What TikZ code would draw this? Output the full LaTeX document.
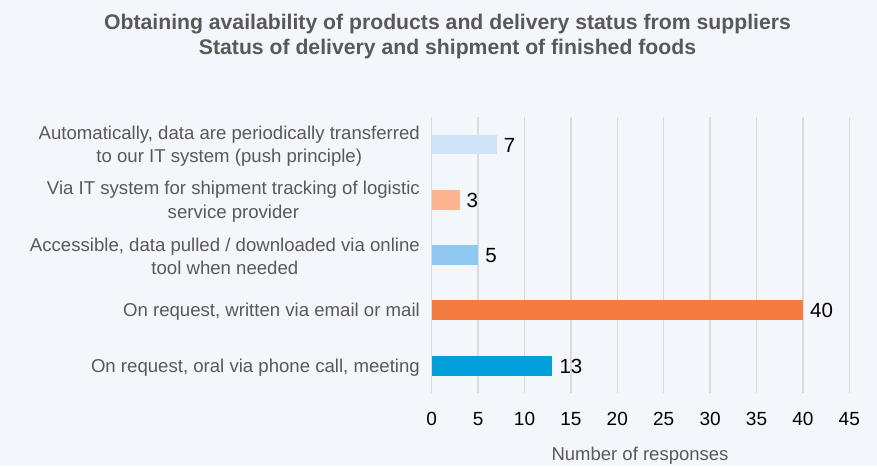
\documentclass[tikz,border=0pt]{standalone}
\usepackage{fontspec}
\setmainfont{Liberation Sans}
\definecolor{bg}{HTML}{F3F6FB}
\definecolor{gridgray}{HTML}{DCDCDC}
\definecolor{labgray}{HTML}{595959}
\definecolor{titlegray}{HTML}{595959}
\definecolor{ca}{HTML}{CFE5F7}
\definecolor{cb}{HTML}{FBB48F}
\definecolor{cc}{HTML}{8FC9EF}
\definecolor{cd}{HTML}{F47C43}
\definecolor{ce}{HTML}{009FDA}
\begin{document}
\begin{tikzpicture}[x=1pt,y=-1pt,
  gridline/.style={draw=gridgray, line width=1.4pt},
  barbox/.style={inner sep=0pt, outer sep=0pt, minimum height=19.5pt, anchor=west, draw=none},
  cat/.style={anchor=east, align=center, text=labgray, inner sep=0pt, yshift=-1.8pt, font=\fontsize{18.6}{23.3}\selectfont},
  val/.style={anchor=west, inner sep=0pt, yshift=-0.8pt, font=\fontsize{20.5}{24}\selectfont},
  ticklab/.style={anchor=base, inner sep=0pt, font=\fontsize{19}{22}\selectfont},
  titletext/.style={anchor=base, inner sep=0pt, text=titlegray, font=\bfseries\fontsize{21.2}{25}\selectfont},
  ]
\fill[bg] (0,0) rectangle (877,466);
\useasboundingbox (0,0) rectangle (877,466);
% title
\node[titletext] (title1) at (447.5,29) {Obtaining availability of products and delivery status from suppliers};
\node[titletext] (title2) at (447.5,54.3) {Status of delivery and shipment of finished foods};
% grid and ticks
\foreach \v in {0,5,...,45} {
  \draw[gridline] ({431.7+9.28*\v},117) -- ({431.7+9.28*\v},393);
  \node[ticklab] (t\v) at ({431.7+9.28*\v},425.7) {\v};
}
% bars
\foreach \v/\yc/\col/\nm in {7/144.6/ca/a, 3/199.8/cb/b, 5/254.8/cc/c, 40/309.8/cd/d, 13/365.8/ce/e} {
  \node[barbox, fill=\col, minimum width={9.28*\v}] (bar\nm) at (431.7,\yc) {};
  \node[val] (val\nm) at ([xshift=7pt]bar\nm.east) {\v};
}
% category labels
\node[cat] (cata) at (420,144.6) {Automatically, data are periodically transferred\\to our IT system (push principle)};
\node[cat] (catb) at (420,199.8) {Via IT system for shipment tracking of logistic\\service provider};
\node[cat] (catc) at (420,254.8) {Accessible, data pulled / downloaded via online\\tool when needed};
\node[cat] (catd) at (420,309.8) {On request, written via email or mail};
\node[cat] (cate) at (420,365.8) {On request, oral via phone call, meeting};
% axis title
\node[anchor=base, inner sep=0pt, text=labgray, font=\fontsize{18.5}{22}\selectfont] (axtitle) at (640,460) {Number of responses};
\end{tikzpicture}
\end{document}
